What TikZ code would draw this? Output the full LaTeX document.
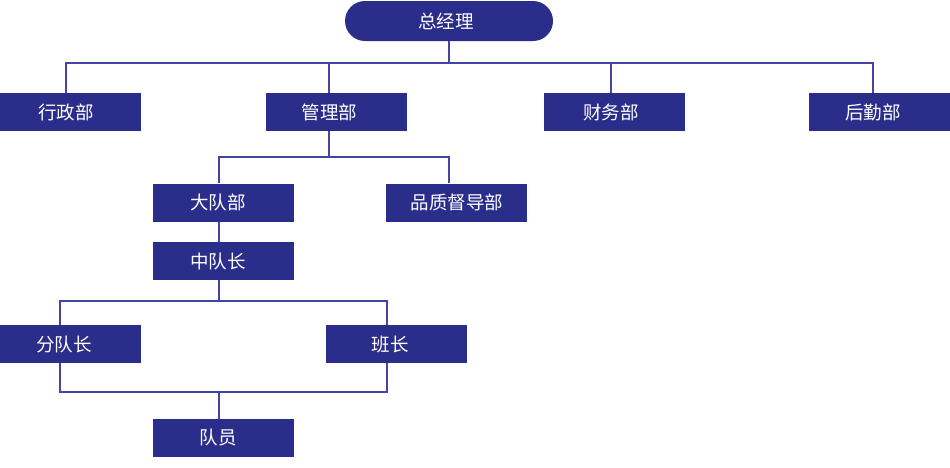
\documentclass[tikz,border=0pt]{standalone}
\usepackage{fontspec}
\newfontfamily\cjk{Noto Sans CJK SC}
\definecolor{boxc}{HTML}{2B2D8B}
\definecolor{linec}{HTML}{4444A6}
\newcommand{\shtxt}[2]{\makebox[0pt][c]{\hspace*{#1}#2}}
\tikzset{
  box/.style={fill=boxc, minimum width=141pt, minimum height=38pt, inner sep=0pt,
    text=white, font=\cjk\fontsize{18.5}{20}\selectfont},
  conn/.style={draw=linec, line width=1.1pt}
}
\begin{document}
\begin{tikzpicture}[x=1pt,y=-1pt]
\useasboundingbox (0,0) rectangle (950,467);
% nodes
\node[box, minimum width=208pt, minimum height=40pt, rounded corners=20pt] (gm) at (449,21) {\shtxt{-6pt}{总经理}};
\node[box] (xz) at (70.5,112) {\shtxt{-9pt}{行政部}};
\node[box] (gl) at (336,112) {\shtxt{-13pt}{管理部}};
\node[box] (cw) at (614,112) {\shtxt{-6pt}{财务部}};
\node[box] (hq) at (879,112) {\shtxt{-12pt}{后勤部}};
\node[box] (dd) at (223.5,202.5) {\shtxt{-11pt}{大队部}};
\node[box] (pz) at (456,202.5) {\shtxt{2pt}{品质督导部}};
\node[box] (zd) at (223.5,261) {\shtxt{-11pt}{中队长}};
\node[box] (fd) at (70.5,344) {\shtxt{-13pt}{分队长}};
\node[box] (bz) at (396.5,344) {\shtxt{-13pt}{班长}};
\node[box] (dy) at (223.5,438) {\shtxt{-11pt}{队员}};
% bus coordinates
\coordinate (b1) at (449,63);
\coordinate (b2) at (329,157);
\coordinate (b3) at (219,301);
\coordinate (b4) at (219,392);
% top level
\draw[conn] (gm.south) -- (b1);
\draw[conn] ([xshift=-4.5pt]xz.north) |- (b1) -| ([xshift=-6pt]hq.north);
\draw[conn] ([xshift=-7pt]gl.north) -- ([xshift=-7pt]gl.north |- b1);
\draw[conn] ([xshift=-3pt]cw.north) -- ([xshift=-3pt]cw.north |- b1);
% management
\draw[conn] ([xshift=-7pt]gl.south) -- (b2);
\draw[conn] ([xshift=-4.5pt]dd.north) |- (b2) -| ([xshift=-7pt]pz.north);
\draw[conn] ([xshift=-4.5pt]dd.south) -- ([xshift=-4.5pt]zd.north);
% squadron
\draw[conn] ([xshift=-4.5pt]zd.south) -- (b3);
\draw[conn] ([xshift=-10.5pt]fd.north) |- (b3) -| ([xshift=-9.5pt]bz.north);
\draw[conn] ([xshift=-10.5pt]fd.south) |- (b4) -| ([xshift=-9.5pt]bz.south);
\draw[conn] (b4) -- ([xshift=-4.5pt]dy.north);
\end{tikzpicture}
\end{document}
